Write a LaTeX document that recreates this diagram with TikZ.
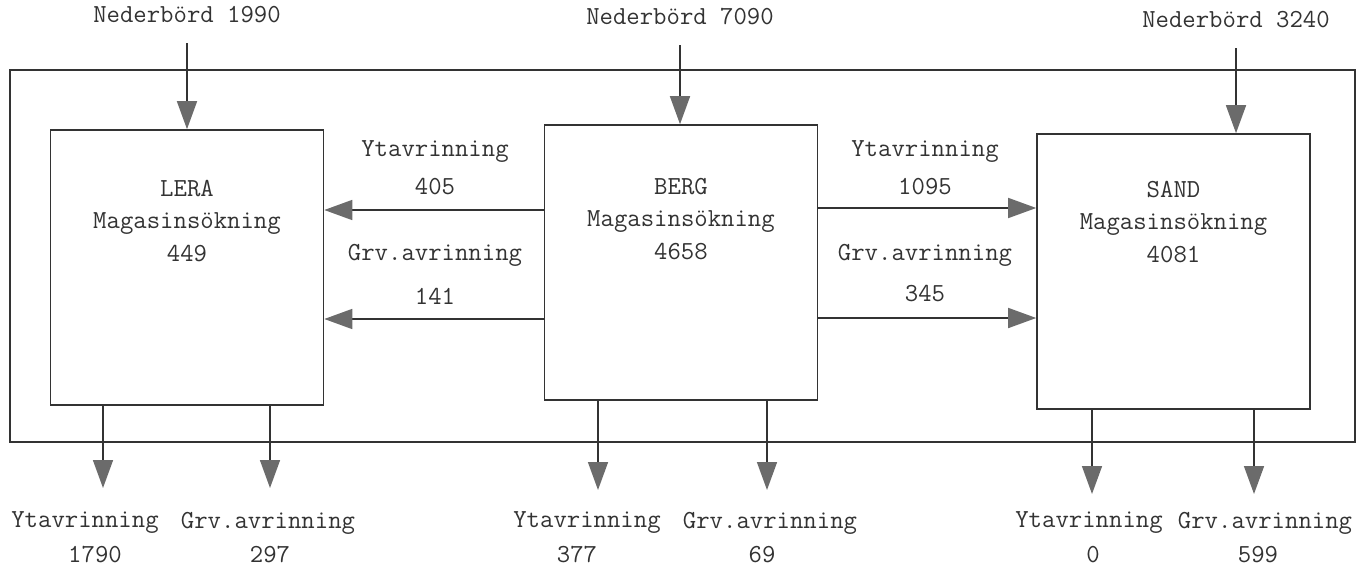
\documentclass[tikz,border=0pt]{standalone}
\usetikzlibrary{arrows.meta, positioning, calc}
\definecolor{inkgray}{gray}{0.2}
\definecolor{tipgray}{gray}{0.42}

\begin{document}
\begin{tikzpicture}[x=0.2mm, y=-0.2mm,
        box/.style={rectangle, draw=inkgray, line width=0.9pt, minimum width=54.6mm, minimum height=55mm},
        frame/.style={rectangle, draw=inkgray, line width=0.9pt, minimum width=269mm, minimum height=74.4mm},
        flow/.style={-{Triangle[width=4mm, length=5.6mm, color=tipgray]}, draw=inkgray, line width=0.9pt},
        txt/.style={font=\ttfamily\fontsize{14.8}{18.7}\selectfont, text=inkgray, align=center, inner sep=1pt}
    ]
        \useasboundingbox (0,0) rectangle (1366,571);

        % Outer boundary
        \node[frame] (system) at (682.5,256) {};

        % Magazines
        \node[box] (lera) at (187,267.5) {};
        \node[box] (berg) at (681,262.5) {};
        \node[box] (sand) at (1173.5,271.5) {};
        \node[txt] (leratxt) at (187,221) {LERA\\Magasinsökning\\449};
        \node[txt] (bergtxt) at (681,219) {BERG\\Magasinsökning\\4658};
        \node[txt] (sandtxt) at (1173.5,222) {SAND\\Magasinsökning\\4081};

        % Precipitation
        \node[txt] (nedlera) at (187,15) {Nederbörd 1990};
        \node[txt] (nedberg) at (680,17) {Nederbörd 7090};
        \node[txt] (nedsand) at (1236,20) {Nederbörd 3240};
        \draw[flow, shorten <=3.6mm] (nedlera.south) -- (nedlera.south |- lera.north);
        \draw[flow, shorten <=3.6mm] (nedberg.south) -- (nedberg.south |- berg.north);
        \draw[flow, shorten <=3.6mm] (nedsand.south) -- (nedsand.south |- sand.north);

        % Flows between magazines
        \draw[flow] ($(berg.west)+(0,-52.5)$) coordinate (bl1) -- (bl1 -| lera.east);
        \draw[flow] ($(berg.west)+(0,56.5)$) coordinate (bl2) -- (bl2 -| lera.east);
        \draw[flow] ($(berg.east)+(0,-54.5)$) coordinate (br1) -- (br1 -| sand.west);
        \draw[flow] ($(berg.east)+(0,55.5)$) coordinate (br2) -- (br2 -| sand.west);
        \node[txt] (ytl) at (435,152) {Ytavrinning};
        \node[txt] (ytlv) at (435,187) {405};
        \node[txt] (grvl) at (435,255) {Grv.avrinning};
        \node[txt] (grvlv) at (435,296) {141};
        \node[txt] (ytr) at (925,152) {Ytavrinning};
        \node[txt] (ytrv) at (925,187) {1095};
        \node[txt] (grvr) at (925,255) {Grv.avrinning};
        \node[txt] (grvrv) at (925,294) {345};

        % Outflows
        \coordinate (lerayt) at (103,488);
        \coordinate (leragrv) at (270,488);
        \coordinate (bergyt) at (598,490);
        \coordinate (berggrv) at (767,490);
        \coordinate (sandyt) at (1092,494);
        \coordinate (sandgrv) at (1254,494);
        \draw[flow] (lerayt |- lera.south) -- (lerayt);
        \draw[flow] (leragrv |- lera.south) -- (leragrv);
        \draw[flow] (bergyt |- berg.south) -- (bergyt);
        \draw[flow] (berggrv |- berg.south) -- (berggrv);
        \draw[flow] (sandyt |- sand.south) -- (sandyt);
        \draw[flow] (sandgrv |- sand.south) -- (sandgrv);

        \node[txt] (lerayttxt) at (85,523) {Ytavrinning};
        \node[txt] (leragrvtxt) at (268,523) {Grv.avrinning};
        \node[txt] (lerayval) at (95,555) {1790};
        \node[txt] (leragval) at (270,555) {297};
        \node[txt] (bergyttxt) at (587,523) {Ytavrinning};
        \node[txt] (berggrvtxt) at (770,523) {Grv.avrinning};
        \node[txt] (bergyval) at (577,555) {377};
        \node[txt] (berggval) at (762,555) {69};
        \node[txt] (sandyttxt) at (1089,523) {Ytavrinning};
        \node[txt] (sandgrvtxt) at (1265,523) {Grv.avrinning};
        \node[txt] (sandyval) at (1093,555) {0};
        \node[txt] (sandgval) at (1258,555) {599};
    \end{tikzpicture}
\end{document}
